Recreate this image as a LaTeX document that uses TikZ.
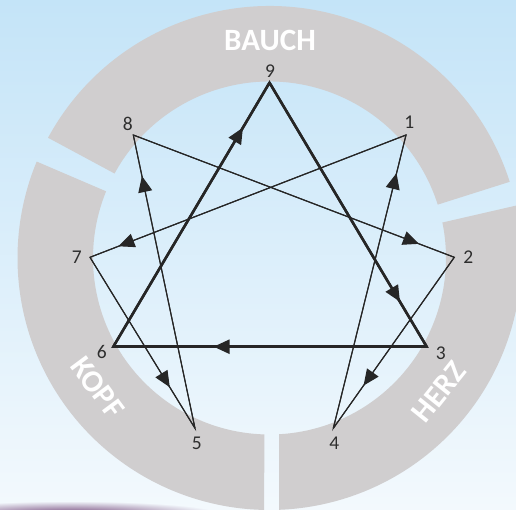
\documentclass[tikz,border=0pt]{standalone}
\usepackage{fontspec}
\setmainfont{Carlito}
\usetikzlibrary{arrows.meta,decorations.markings,calc}
\definecolor{bgtop}{HTML}{C4E4F8}
\definecolor{bgbot}{HTML}{F3F9FD}
\definecolor{ringgray}{HTML}{D0CECF}
\definecolor{ink}{HTML}{262626}
\definecolor{numink}{HTML}{2E2E2E}
\definecolor{smudge}{HTML}{6E3F74}
\tikzset{
  arrowat/.style={postaction={decorate},decoration={markings,mark=at position #1 with {\arrow{Triangle[length=16pt,width=14pt]}}}},
  thickline/.style={draw=ink,line width=2.5pt,line join=miter},
  thinline/.style={draw=ink,line width=1.1pt,line join=miter},
  numlabel/.style={inner sep=0pt,text=numink,font=\fontsize{19.5}{20}\selectfont},
  zonelabel/.style={inner sep=0pt,text=white,font=\bfseries\fontsize{31}{33}\selectfont}
}
\begin{document}
\begin{tikzpicture}[x=1pt,y=1pt]
\useasboundingbox (0,0) rectangle (516,509);
\clip (0,0) rectangle (516,509);
% background
\shade[top color=bgtop,bottom color=bgbot] (0,0) rectangle (516,509);
\shade[inner color=smudge,outer color=bgbot] (70,-5) ellipse (150 and 13);
% ring segments
\coordinate (C) at (269.5,251);
\fill[ringgray] ($(C)+(151.5:252)$) arc[start angle=151.5,end angle=17.6,radius=252]
  -- ($(C)+(17.6:176.5)$) arc[start angle=17.6,end angle=151.4,radius=176.5] -- cycle;
\fill[ringgray] ($(C)+(12:252)$) arc[start angle=12,end angle=-87.8,radius=252]
  -- ($(C)+(-86.9:176.5)$) arc[start angle=-86.9,end angle=11.6,radius=176.5] -- cycle;
\fill[ringgray] ($(C)+(-91.2:252)$) arc[start angle=-91.2,end angle=-202.5,radius=252]
  -- ($(C)+(-202.2:176.5)$) arc[start angle=-202.2,end angle=-91.7,radius=176.5] -- cycle;
% zone labels
\node[zonelabel] (bauch) at (270,468.3) {BAUCH};
\node[zonelabel,rotate=-53.3] (kopf) at (97.5,121.5) {KOPF};
\node[zonelabel,rotate=51.3] (herz) at (439,117) {HERZ};
% vertices
\coordinate (n9) at (269.5,426.3);
\coordinate (n8) at (133.3,374);
\coordinate (n1) at (406,374);
\coordinate (n7) at (90,251.7);
\coordinate (n2) at (454.3,251.7);
\coordinate (n6) at (113.3,162.3);
\coordinate (n3) at (426.7,162.3);
\coordinate (n5) at (195,80.7);
\coordinate (n4) at (333.3,80.7);
% number labels
\node[numlabel] (l9) at (270,438.3) {9};
\node[numlabel] (l8) at (127.7,385) {8};
\node[numlabel] (l1) at (409.3,386.7) {1};
\node[numlabel] (l7) at (76.7,251.7) {7};
\node[numlabel] (l2) at (468.3,252.3) {2};
\node[numlabel] (l6) at (101.7,157.3) {6};
\node[numlabel] (l3) at (440.7,155.7) {3};
\node[numlabel] (l5) at (196.7,65.7) {5};
\node[numlabel] (l4) at (334.3,65.7) {4};
% hexad
\draw[thinline] (n1) -- (n7) -- (n5) -- (n8) -- (n2) -- (n4) -- cycle;
\draw[thinline,arrowat=0.91] (n1) -- (n7);
\draw[thinline,arrowat=0.76] (n7) -- (n5);
\draw[thinline,arrowat=0.86] (n5) -- (n8);
\draw[thinline,arrowat=0.89] (n8) -- (n2);
\draw[thinline,arrowat=0.75] (n2) -- (n4);
\draw[thinline,arrowat=0.87] (n4) -- (n1);
% triangle
\draw[thickline] (n9) -- (n3) -- (n6) -- cycle;
\draw[thickline,arrowat=0.83] (n9) -- (n3);
\draw[thickline,arrowat=0.68] (n3) -- (n6);
\draw[thickline,arrowat=0.83] (n6) -- (n9);
\end{tikzpicture}
\end{document}
